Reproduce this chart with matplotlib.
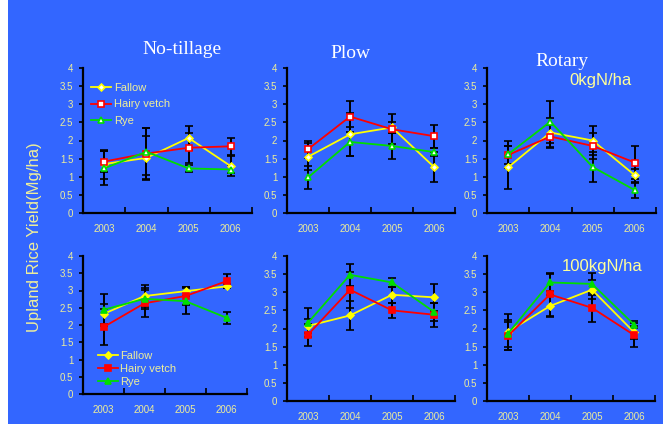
import matplotlib
matplotlib.use("Agg")
import matplotlib.pyplot as plt
import numpy as np
from matplotlib.patches import Rectangle

plt.rcParams["font.family"] = ["Liberation Sans", "DejaVu Sans"]

years = ["2003", "2004", "2005", "2006"]
series_names = ["Fallow", "Hairy vetch", "Rye"]
tillage_names = ["No-tillage", "Plow", "Rotary"]
n_rates = ["0kgN/ha", "100kgN/ha"]

# 0 kgN/ha
nt0_fallow = [1.35, 1.52, 2.07, 1.29]
nt0_fallow_err = [0.40, 0.60, 0.32, 0.27]
nt0_vetch = [1.42, 1.64, 1.80, 1.84]
nt0_vetch_err = [0.30, 0.70, 0.42, 0.23]
nt0_rye = [1.23, 1.69, 1.23, 1.20]
nt0_rye_err = [0.47, 0.65, 0.10, 0.10]

pl0_fallow = [1.55, 2.17, 2.36, 1.27]
pl0_fallow_err = [0.37, 0.60, 0.16, 0.41]
pl0_vetch = [1.76, 2.66, 2.31, 2.12]
pl0_vetch_err = [0.24, 0.42, 0.41, 0.32]
pl0_rye = [0.98, 1.96, 1.85, 1.68]
pl0_rye_err = [0.31, 0.40, 0.36, 0.10]

ro0_fallow = [1.26, 2.22, 2.00, 1.04]
ro0_fallow_err = [0.59, 0.40, 0.41, 0.18]
ro0_vetch = [1.60, 2.11, 1.85, 1.39]
ro0_vetch_err = [0.25, 0.33, 0.37, 0.46]
ro0_rye = [1.62, 2.52, 1.27, 0.63]
ro0_rye_err = [0.37, 0.58, 0.41, 0.21]

# 100 kgN/ha
nt100_fallow = [2.32, 2.84, 2.98, 3.12]
nt100_fallow_err = [0.30, 0.33, 0.13, 0.06]
nt100_vetch = [1.94, 2.63, 2.84, 3.27]
nt100_vetch_err = [0.53, 0.39, 0.27, 0.21]
nt100_rye = [2.44, 2.76, 2.69, 2.21]
nt100_rye_err = [0.47, 0.30, 0.37, 0.17]

pl100_fallow = [2.07, 2.36, 2.93, 2.86]
pl100_fallow_err = [0.20, 0.41, 0.22, 0.38]
pl100_vetch = [1.83, 3.07, 2.50, 2.38]
pl100_vetch_err = [0.30, 0.50, 0.20, 0.33]
pl100_rye = [2.16, 3.48, 3.27, 2.46]
pl100_rye_err = [0.40, 0.31, 0.12, 0.25]

ro100_fallow = [1.91, 2.62, 3.07, 1.90]
ro100_fallow_err = [0.50, 0.30, 0.26, 0.18]
ro100_vetch = [1.80, 2.94, 2.57, 1.82]
ro100_vetch_err = [0.38, 0.60, 0.40, 0.32]
ro100_rye = [1.86, 3.27, 3.23, 2.11]
ro100_rye_err = [0.37, 0.23, 0.31, 0.10]

panels = [
    [(nt0_fallow, nt0_fallow_err), (nt0_vetch, nt0_vetch_err), (nt0_rye, nt0_rye_err)],
    [(pl0_fallow, pl0_fallow_err), (pl0_vetch, pl0_vetch_err), (pl0_rye, pl0_rye_err)],
    [(ro0_fallow, ro0_fallow_err), (ro0_vetch, ro0_vetch_err), (ro0_rye, ro0_rye_err)],
    [(nt100_fallow, nt100_fallow_err), (nt100_vetch, nt100_vetch_err), (nt100_rye, nt100_rye_err)],
    [(pl100_fallow, pl100_fallow_err), (pl100_vetch, pl100_vetch_err), (pl100_rye, pl100_rye_err)],
    [(ro100_fallow, ro100_fallow_err), (ro100_vetch, ro100_vetch_err), (ro100_rye, ro100_rye_err)],
]

BG = "#3366FF"
TXT = "#EEEE9A"
line_colors = ["#FFFF00", "#FF0000", "#00DD00"]
markers = ["D", "s", "^"]
msizes = [3.5, 4.2, 4.5]

W, H = 663, 424
fig = plt.figure(figsize=(W / 100, H / 100), dpi=100, facecolor=BG)
fig.patches.append(Rectangle((0, 0), 8 / W, 1, transform=fig.transFigure,
                             facecolor="white", edgecolor="none", zorder=0))


def px_axes(x0, x1, y0, y1):
    return fig.add_axes([x0 / W, 1 - y1 / H, (x1 - x0) / W, (y1 - y0) / H])


boxes = [
    (83, 252, 68, 213), (287, 455, 68, 213), (487, 656, 68, 213),
    (83, 247, 256, 394), (287, 455, 256, 401), (487, 655, 256, 401),
]

x = np.arange(len(years))
yt = np.arange(0, 4.01, 0.5)
ylabels = [("%g" % v) for v in yt]

axes = []
for i, (box, data) in enumerate(zip(boxes, panels)):
    ax = px_axes(*box)
    ax.set_facecolor("none")
    filled = i >= 3
    for j, (vals, errs) in enumerate(data):
        ax.errorbar(x, vals, yerr=errs, fmt="none", ecolor="black",
                    elinewidth=1.4, capsize=3, capthick=1.2, zorder=2)
    for j, (vals, errs) in enumerate(data):
        c = line_colors[j]
        ax.plot(x, vals, color=c, lw=1.3, marker=markers[j], ms=msizes[j],
                mfc=c if filled else "white", mec=c, mew=1.2,
                label=series_names[j], zorder=3)
    ax.set_xlim(-0.5, 3.5)
    ax.set_ylim(0, 4)
    ax.set_xticks(x)
    ax.set_xticklabels(years)
    ax.set_xticks([0.5, 1.5, 2.5, 3.5], minor=True)
    ax.tick_params(axis="x", which="major", length=0, pad=8, labelsize=7, labelcolor=TXT)
    ax.tick_params(axis="x", which="minor", length=4, width=1.2, direction="in", color="black")
    ax.set_yticks(yt)
    ax.set_yticklabels(ylabels)
    ax.tick_params(axis="y", length=3, width=1.2, direction="out", color="black",
                   pad=4, labelsize=7, labelcolor=TXT)
    for s in ("top", "right"):
        ax.spines[s].set_visible(False)
    for s in ("left", "bottom"):
        ax.spines[s].set_color("black")
        ax.spines[s].set_linewidth(1.6)
    axes.append(ax)

leg = axes[0].legend(loc="upper left", bbox_to_anchor=(0.05, 0.9), frameon=False,
                     fontsize=8, labelcolor=TXT, borderpad=0, borderaxespad=0,
                     handlelength=1.8, handletextpad=0.2, labelspacing=0.62,
                     numpoints=1)
leg2 = axes[3].legend(loc="upper left", bbox_to_anchor=(0.09, 0.31), frameon=False,
                      fontsize=8, labelcolor=TXT, borderpad=0, borderaxespad=0,
                      handlelength=1.8, handletextpad=0.2, labelspacing=0.26,
                      numpoints=1)

# Column headings (tillage systems)
title_pos = [(182, 50), (350, 53), (562, 61)]
for name, (tx, ty) in zip(tillage_names, title_pos):
    fig.text(tx / W, 1 - ty / H, name, ha="center", va="center", color="white",
             fontsize=14, family=["Liberation Serif", "DejaVu Serif"])

# Nitrogen rate labels
fig.text(601 / W, 1 - 81 / H, n_rates[0], ha="center", va="center", color="#FFFF99", fontsize=12)
fig.text(602 / W, 1 - 266 / H, n_rates[1], ha="center", va="center", color="#FFFF99", fontsize=12)

fig.text(35 / W, 1 - 237 / H, "Upland Rice Yield(Mg/ha)", rotation=90, ha="center",
         va="center", color=TXT, fontsize=12)

fig.savefig("out.png", dpi=100, facecolor=BG)
